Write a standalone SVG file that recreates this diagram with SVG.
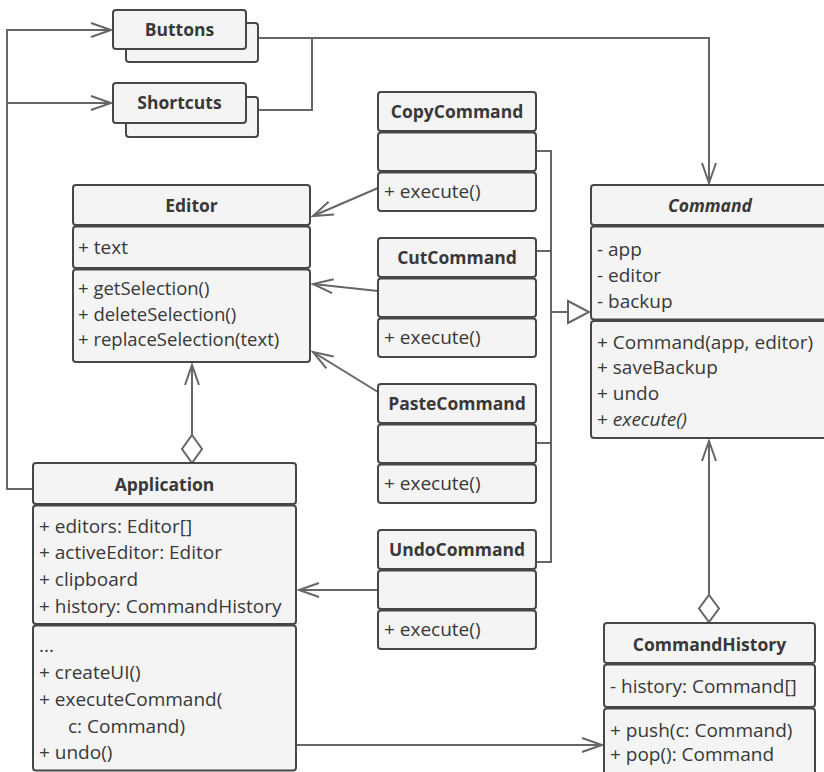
<svg xmlns="http://www.w3.org/2000/svg" width="824" height="772" viewBox="0 0 824 772">
<style>
  .bx { fill: #f4f4f4; stroke: #474747; stroke-width: 2; }
  .t { font-family: "Open Sans", "Noto Sans", sans-serif; font-size: 19px; fill: #383838; }
  .s { font-size: 18.5px; }
  .h { font-family: "Open Sans", "Noto Sans", sans-serif; font-size: 17.5px; font-weight: bold; fill: #383838; text-anchor: middle; }
  .c { fill: none; stroke: #666; stroke-width: 2; }
</style>
<defs>
  <marker id="arr" markerUnits="userSpaceOnUse" viewBox="-24 -10 26 20" refX="0" refY="0" markerWidth="26" markerHeight="20" orient="auto" overflow="visible">
    <path d="M-20,-7 L0,0 L-20,7" fill="none" stroke="#666" stroke-width="2"/>
  </marker>
</defs>
<rect width="824" height="772" fill="#ffffff"/>

<g id="connectors">
  <path class="c" d="M33,489 H7 V30 H111" marker-end="url(#arr)"/>
  <path class="c" d="M7,103 H111" marker-end="url(#arr)"/>
  <path class="c" d="M258,38 H709 V183" marker-end="url(#arr)"/>
  <path class="c" d="M258,110 H312 V38"/>
  <path class="c" d="M378,188 L313,216" marker-end="url(#arr)"/>
  <path class="c" d="M378,291 L313,284" marker-end="url(#arr)"/>
  <path class="c" d="M378,392 L313,352" marker-end="url(#arr)"/>
  <path class="c" d="M378,590 H299" marker-end="url(#arr)"/>
  <path class="c" d="M536,151 H551 M536,251 H551 M536,443 H551 M536,562 H551 M551,150 V563 M551,312 H568"/>
  <polygon points="568,301 589,312 568,323" fill="#ffffff" stroke="#666" stroke-width="2"/>
  <path class="c" d="M192,435 V365" marker-end="url(#arr)"/>
  <polygon points="192,435 202,449 192,463 182,449" fill="#ffffff" stroke="#666" stroke-width="2"/>
  <path class="c" d="M709,595 V441" marker-end="url(#arr)"/>
  <polygon points="709,595 719,608.5 709,622 699,608.5" fill="#ffffff" stroke="#666" stroke-width="2"/>
  <path class="c" d="M296,745 H602" marker-end="url(#arr)"/>
</g>

<g id="buttons">
  <rect class="bx" x="126" y="23" width="132" height="39" rx="3"/>
  <rect class="bx" x="113" y="10" width="133" height="39" rx="3"/>
  <text class="h" x="179.5" y="36">Buttons</text>
</g>
<g id="shortcuts">
  <rect class="bx" x="126" y="97" width="132" height="40" rx="3"/>
  <rect class="bx" x="113" y="83" width="133" height="40" rx="3"/>
  <text class="h" x="179.5" y="109">Shortcuts</text>
</g>

<g id="editor">
  <rect class="bx" x="73" y="185" width="237" height="40" rx="3"/>
  <rect class="bx" x="73" y="226.5" width="237" height="41.5" rx="3"/>
  <rect class="bx" x="73" y="269.5" width="237" height="92.5" rx="3"/>
  <text class="h" x="191.5" y="212">Editor</text>
  <text class="t" x="78" y="254">+ text</text>
  <text class="t s" x="78" y="295">+ getSelection()</text>
  <text class="t s" x="78" y="320.5">+ deleteSelection()</text>
  <text class="t s" x="78" y="346">+ replaceSelection(text)</text>
</g>

<g id="copycommand">
  <rect class="bx" x="378" y="92" width="158" height="39" rx="3"/>
  <rect class="bx" x="378" y="132.5" width="158" height="38.5" rx="3"/>
  <rect class="bx" x="378" y="172.5" width="158" height="38.5" rx="3"/>
  <text class="h" x="457" y="118">CopyCommand</text>
  <text class="t" x="384" y="198">+ execute()</text>
</g>
<g id="cutcommand">
  <rect class="bx" x="378" y="238" width="158" height="39" rx="3"/>
  <rect class="bx" x="378" y="278.5" width="158" height="38.5" rx="3"/>
  <rect class="bx" x="378" y="318.5" width="158" height="38.5" rx="3"/>
  <text class="h" x="457" y="264">CutCommand</text>
  <text class="t" x="384" y="344">+ execute()</text>
</g>
<g id="pastecommand">
  <rect class="bx" x="378" y="384" width="158" height="39" rx="3"/>
  <rect class="bx" x="378" y="424.5" width="158" height="38.5" rx="3"/>
  <rect class="bx" x="378" y="464.5" width="158" height="38.5" rx="3"/>
  <text class="h" x="457" y="410">PasteCommand</text>
  <text class="t" x="384" y="490">+ execute()</text>
</g>
<g id="undocommand">
  <rect class="bx" x="378" y="530" width="158" height="39" rx="3"/>
  <rect class="bx" x="378" y="570.5" width="158" height="38.5" rx="3"/>
  <rect class="bx" x="378" y="610.5" width="158" height="38.5" rx="3"/>
  <text class="h" x="457" y="556">UndoCommand</text>
  <text class="t" x="384" y="636">+ execute()</text>
</g>

<g id="command">
  <rect class="bx" x="591" y="185" width="240" height="40" rx="3"/>
  <rect class="bx" x="591" y="226.5" width="240" height="93" rx="3"/>
  <rect class="bx" x="591" y="321" width="240" height="117" rx="3"/>
  <text class="h" x="710" y="212" font-style="italic">Command</text>
  <text class="t" x="597" y="256">- app</text>
  <text class="t" x="597" y="282">- editor</text>
  <text class="t" x="597" y="308">- backup</text>
  <text class="t" x="597" y="349">+ Command(app, editor)</text>
  <text class="t" x="597" y="374">+ saveBackup</text>
  <text class="t" x="597" y="400">+ undo</text>
  <text class="t" x="597" y="426">+ <tspan font-style="italic">execute()</tspan></text>
</g>

<g id="application">
  <rect class="bx" x="33" y="463" width="263" height="41" rx="3"/>
  <rect class="bx" x="33" y="505.5" width="263" height="118.5" rx="3"/>
  <rect class="bx" x="33" y="625.5" width="263" height="145" rx="3"/>
  <text class="h" x="164.5" y="491">Application</text>
  <text class="t" x="39" y="533">+ editors: Editor[]</text>
  <text class="t" x="39" y="559">+ activeEditor: Editor</text>
  <text class="t" x="39" y="586">+ clipboard</text>
  <text class="t" x="39" y="613">+ history: CommandHistory</text>
  <text class="t" x="39" y="652">...</text>
  <text class="t" x="39" y="679">+ createUI()</text>
  <text class="t" x="39" y="706">+ executeCommand(</text>
  <text class="t" x="68" y="733">c: Command)</text>
  <text class="t" x="39" y="759">+ undo()</text>
</g>

<g id="commandhistory">
  <rect class="bx" x="604" y="623" width="211" height="40" rx="3"/>
  <rect class="bx" x="604" y="664.5" width="211" height="42.5" rx="3"/>
  <rect class="bx" x="604" y="708.5" width="211" height="82" rx="3"/>
  <text class="h" x="709.5" y="651">CommandHistory</text>
  <text class="t" x="610" y="693">- history: Command[]</text>
  <text class="t" x="610" y="737">+ push(c: Command)</text>
  <text class="t" x="610" y="761">+ pop(): Command</text>
</g>
</svg>
